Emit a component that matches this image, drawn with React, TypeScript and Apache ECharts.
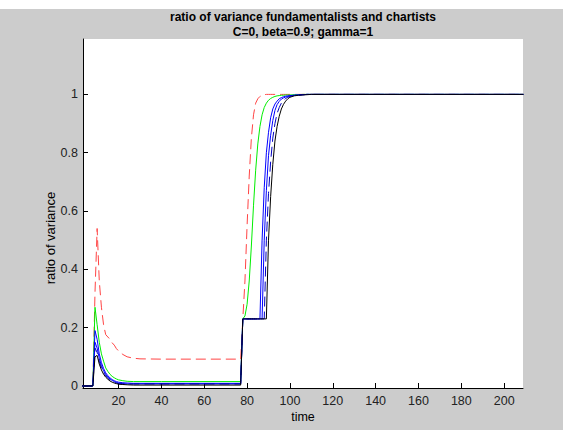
import React, { useEffect, useRef } from "react";
import * as echarts from "echarts";

const titleLines = ["ratio of variance fundamentalists and chartists", "C=0, beta=0.9; gamma=1"];
const xName = "time";
const yName = "ratio of variance";
const xTicks = [20, 40, 60, 80, 100, 120, 140, 160, 180, 200];
const yTicks = [0, 0.2, 0.4, 0.6, 0.8, 1];

const time = [3, 8, 9, 10, 11, 12, 13, 14, 15, 16, 17, 18, 19, 20, 22, 24, 27, 30, 40, 77,
  78, 79, 80, 81, 82, 83, 84, 85, 86, 87, 88, 89, 90, 91, 92, 93, 94, 95, 96, 97, 98, 99, 100,
  102, 104, 106, 108, 110, 150, 209];

const redDashed = [0, 0, 0.32, 0.54, 0.36, 0.27, 0.21, 0.176, 0.168, 0.16, 0.148, 0.14, 0.128, 0.12, 0.108, 0.1, 0.095, 0.093, 0.092, 0.092,
  0.23, 0.36, 0.55, 0.72, 0.85, 0.93, 0.97, 0.985, 0.993, 0.997, 0.999, 1, 1, 1, 1, 1, 1, 1, 1, 1, 1, 1, 1,
  1, 1, 1, 1, 1, 1, 1];

const green = [0, 0, 0.27, 0.21, 0.15, 0.11, 0.085, 0.062, 0.05, 0.04, 0.033, 0.028, 0.024, 0.021, 0.018, 0.016, 0.015, 0.015, 0.015, 0.015,
  0.23, 0.24, 0.28, 0.36, 0.48, 0.62, 0.74, 0.83, 0.89, 0.93, 0.955, 0.97, 0.98, 0.986, 0.99, 0.993, 0.995, 0.996, 0.997, 0.997, 0.998, 0.998, 0.998,
  0.999, 0.999, 1, 1, 1, 1, 1];

const blueA = [0, 0, 0.19, 0.16, 0.11, 0.08, 0.06, 0.045, 0.035, 0.028, 0.022, 0.018, 0.015, 0.013, 0.011, 0.01, 0.009, 0.009, 0.009, 0.009,
  0.23, 0.23, 0.23, 0.23, 0.23, 0.23, 0.23, 0.23, 0.23, 0.5, 0.68, 0.8, 0.87, 0.92, 0.95, 0.967, 0.977, 0.985, 0.989, 0.992, 0.994, 0.995, 0.996,
  0.997, 0.998, 0.999, 1, 1, 1, 1];

const blueB = [0, 0, 0.15, 0.13, 0.095, 0.07, 0.052, 0.04, 0.03, 0.024, 0.019, 0.015, 0.012, 0.01, 0.008, 0.007, 0.007, 0.007, 0.007, 0.007,
  0.23, 0.23, 0.23, 0.23, 0.23, 0.23, 0.23, 0.23, 0.23, 0.23, 0.5, 0.67, 0.79, 0.86, 0.91, 0.945, 0.965, 0.976, 0.984, 0.988, 0.991, 0.993, 0.995,
  0.997, 0.998, 0.999, 1, 1, 1, 1];

const blueDashed = [0, 0, 0.13, 0.115, 0.085, 0.062, 0.046, 0.035, 0.026, 0.02, 0.016, 0.012, 0.01, 0.008, 0.007, 0.007, 0.007, 0.007, 0.007, 0.007,
  0.23, 0.23, 0.23, 0.23, 0.23, 0.23, 0.23, 0.23, 0.23, 0.23, 0.23, 0.5, 0.66, 0.77, 0.85, 0.9, 0.935, 0.955, 0.97, 0.98, 0.986, 0.99, 0.993,
  0.996, 0.998, 0.999, 1, 1, 1, 1];

const black = [0, 0, 0.1, 0.105, 0.075, 0.055, 0.04, 0.03, 0.023, 0.017, 0.013, 0.01, 0.008, 0.006, 0.005, 0.004, 0.003, 0.003, 0.003, 0.003,
  0.23, 0.23, 0.23, 0.23, 0.23, 0.23, 0.23, 0.23, 0.23, 0.23, 0.23, 0.23, 0.5, 0.65, 0.76, 0.84, 0.89, 0.925, 0.95, 0.966, 0.977, 0.985, 0.99,
  0.995, 0.997, 0.998, 0.999, 1, 1, 1];

const FONT = "'Liberation Sans', Arial, Helvetica, sans-serif";

function pairs(v: number[]) {
  return time.map((t, i) => [t, v[i]]);
}

function lineSeries(name: string, values: number[], color: string, dashed: boolean) {
  return {
    name,
    type: "line",
    data: pairs(values),
    showSymbol: false,
    symbol: "none",
    lineStyle: { color, width: 1, type: dashed ? [10, 5] : "solid" },
    emphasis: { disabled: true },
    z: 2,
  };
}

export default function App() {
  const ref = useRef<HTMLDivElement>(null);
  useEffect(() => {
    if (!ref.current) return;
    const chart = echarts.init(ref.current, undefined, { renderer: "svg" });
    const gl = 83, gt = 39, gw = 440, gh = 349;
    chart.setOption({
      animation: false,
      backgroundColor: "#cccccc",
      textStyle: { fontFamily: FONT },
      grid: { left: gl, top: gt, width: gw, height: gh, show: true, backgroundColor: "#ffffff", borderWidth: 0 },
      xAxis: {
        type: "value",
        min: 3.4,
        max: 208.8,
        axisLine: { show: true, onZero: false, lineStyle: { color: "#000", width: 1 } },
        axisTick: { show: true, inside: true, length: 5, customValues: xTicks, lineStyle: { color: "#000" } },
        axisLabel: { customValues: xTicks, color: "#222", fontSize: 12.5, fontFamily: FONT, margin: 6 },
        splitLine: { show: false },
      },
      yAxis: {
        type: "value",
        min: -0.007,
        max: 1.19,
        axisLine: { show: true, onZero: false, lineStyle: { color: "#000", width: 1 } },
        axisTick: { show: true, inside: true, length: 5, customValues: yTicks, lineStyle: { color: "#000" } },
        axisLabel: { customValues: yTicks, color: "#222", fontSize: 12.5, fontFamily: FONT, margin: 5 },
        splitLine: { show: false },
      },
      graphic: [
        { type: "rect", left: 0, top: 0, shape: { x: 0, y: 0, width: 563, height: 9 }, style: { fill: "#ffffff" } },
        { type: "text", x: gl + gw / 2, y: 17, style: { text: titleLines[0], textAlign: "center", textVerticalAlign: "middle", font: `bold 12px ${FONT}`, fill: "#000" } },
        { type: "text", x: gl + gw / 2, y: 32, style: { text: titleLines[1], textAlign: "center", textVerticalAlign: "middle", font: `bold 12px ${FONT}`, fill: "#000" } },
        { type: "text", x: gl + gw / 2, y: 417, style: { text: xName, textAlign: "center", textVerticalAlign: "middle", font: `12.5px ${FONT}`, fill: "#000" } },
        { type: "text", x: 50, y: 238, rotation: Math.PI / 2, style: { text: yName, textAlign: "center", textVerticalAlign: "middle", font: `13px ${FONT}`, fill: "#000" } },
      ],
      series: [
        lineSeries("red", redDashed, "#ff4444", true),
        lineSeries("green", green, "#00ee00", false),
        lineSeries("blueA", blueA, "#0000ff", false),
        lineSeries("blueB", blueB, "#0000ff", false),
        lineSeries("blueDashed", blueDashed, "#0000c0", true),
        lineSeries("black", black, "#000000", false),
      ],
    });
    return () => chart.dispose();
  }, []);
  return <div ref={ref} style={{ position: "absolute", left: 0, top: 0, width: 563, height: 430 }} />;
}
